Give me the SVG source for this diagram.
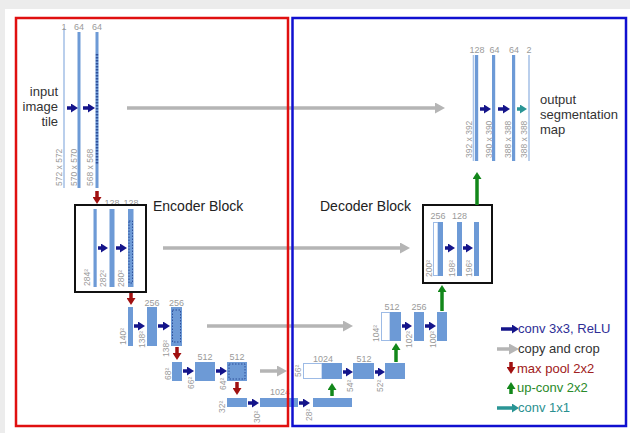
<svg xmlns="http://www.w3.org/2000/svg" width="630" height="433" viewBox="0 0 630 433">
<defs>
<style>
.bar{fill:#6d9ad6}
.wbar{fill:#ffffff;stroke:#9dbbe6;stroke-width:1}
.thin{stroke:#a9c3e8;stroke-width:1.6}
.dot{fill:none;stroke:#2f4f9a;stroke-width:1;stroke-dasharray:1.5 1.5}
.lab{font-family:"Liberation Sans",Arial,sans-serif;font-size:9px;fill:#9a9a9a}
.rot{font-family:"Liberation Sans",Arial,sans-serif;font-size:8.5px;fill:#9a9a9a}
.big{font-family:"Liberation Sans",Arial,sans-serif;font-size:13px;fill:#333333}
.blk{font-family:"Liberation Sans",Arial,sans-serif;font-size:14px;fill:#222222}
.leg{font-family:"Liberation Sans",Arial,sans-serif;font-size:13px}
.cv{stroke:#14148a;stroke-width:3.5;fill:none;marker-end:url(#mb)}
.cp{stroke:#b5b5b5;stroke-width:3.5;fill:none;marker-end:url(#mg)}
.mp{stroke:#a01010;stroke-width:3.5;fill:none;marker-end:url(#mr)}
.up{stroke:#12871a;stroke-width:3.5;fill:none;marker-end:url(#mu)}
.c1{stroke:#2a9595;stroke-width:3.5;fill:none;marker-end:url(#mt)}
.box{fill:none;stroke:#111111;stroke-width:2}
</style>
<marker id="mb" markerUnits="userSpaceOnUse" markerWidth="7" markerHeight="9" refX="0" refY="4.5" orient="auto"><path d="M0,0 L7,4.5 L0,9 z" fill="#14148a"/></marker>
<marker id="mg" markerUnits="userSpaceOnUse" markerWidth="10" markerHeight="11" refX="0" refY="5.5" orient="auto"><path d="M0,0 L10,5.5 L0,11 z" fill="#b5b5b5"/></marker>
<marker id="mr" markerUnits="userSpaceOnUse" markerWidth="7" markerHeight="9" refX="0" refY="4.5" orient="auto"><path d="M0,0 L7,4.5 L0,9 z" fill="#a01010"/></marker>
<marker id="mu" markerUnits="userSpaceOnUse" markerWidth="7" markerHeight="9" refX="0" refY="4.5" orient="auto"><path d="M0,0 L7,4.5 L0,9 z" fill="#12871a"/></marker>
<marker id="mt" markerUnits="userSpaceOnUse" markerWidth="7" markerHeight="9" refX="0" refY="4.5" orient="auto"><path d="M0,0 L7,4.5 L0,9 z" fill="#2a9595"/></marker>
</defs>
<rect x="0" y="0" width="630" height="433" fill="#ececec"/>
<rect x="5" y="9" width="625" height="424" fill="#ffffff"/>

<!-- Encoder level 1 -->
<g id="enc1">
<line class="thin" x1="64" y1="28" x2="64" y2="188"/>
<rect class="bar" x="77.5" y="32" width="3" height="156"/>
<rect class="bar" x="95.5" y="32" width="3" height="156"/>
<line x1="97" y1="54" x2="97" y2="164" stroke="#2f4f9a" stroke-width="2.4" stroke-dasharray="1.5 1.5"/>
<text class="lab" x="64" y="30" text-anchor="middle">1</text>
<text class="lab" x="79" y="30" text-anchor="middle">64</text>
<text class="lab" x="97" y="30" text-anchor="middle">64</text>
<text class="rot" transform="translate(61.5,186) rotate(-90)">572 x 572</text>
<text class="rot" transform="translate(77,186) rotate(-90)">570 x 570</text>
<text class="rot" transform="translate(92.5,186) rotate(-90)">568 x 568</text>
<text class="big" x="58" y="96" text-anchor="end">input</text>
<text class="big" x="58" y="111" text-anchor="end">image</text>
<text class="big" x="58" y="126" text-anchor="end">tile</text>
</g>

<!-- Encoder level 2 (Encoder Block) -->
<g id="enc2">
<rect class="bar" x="93.5" y="209" width="3.2" height="78"/>
<rect class="bar" x="109.5" y="209" width="5" height="78"/>
<rect class="bar" x="128" y="209" width="5.5" height="78"/>
<rect class="dot" x="129" y="221" width="3.5" height="62"/>
<text class="lab" x="112" y="206" text-anchor="middle" font-size="8">128</text>
<text class="lab" x="131" y="206" text-anchor="middle" font-size="8">128</text>
<text class="rot" transform="translate(90,286) rotate(-90)">284²</text>
<text class="rot" transform="translate(106,287) rotate(-90)">282²</text>
<text class="rot" transform="translate(124,287) rotate(-90)">280²</text>
<rect class="box" x="75" y="205" width="71" height="87"/>
<text class="blk" x="153" y="211">Encoder Block</text>
</g>

<!-- Encoder level 3 -->
<g id="enc3">
<rect class="bar" x="128" y="307" width="5" height="39"/>
<rect class="bar" x="147" y="307" width="10" height="39"/>
<rect class="bar" x="171" y="307" width="11" height="39"/>
<rect class="dot" x="172.5" y="310" width="8" height="32"/>
<text class="lab" x="152" y="305.5" text-anchor="middle">256</text>
<text class="lab" x="176.5" y="305.5" text-anchor="middle">256</text>
<text class="rot" transform="translate(126,345) rotate(-90)">140²</text>
<text class="rot" transform="translate(145,348) rotate(-90)">138²</text>
<text class="rot" transform="translate(169,357) rotate(-90)">138²</text>
</g>

<!-- Encoder level 4 -->
<g id="enc4">
<rect class="bar" x="172" y="362" width="10" height="19"/>
<rect class="bar" x="195" y="362" width="20" height="19"/>
<rect class="bar" x="227" y="362" width="20" height="19"/>
<rect class="dot" x="229" y="364" width="16" height="15"/>
<text class="lab" x="205" y="360" text-anchor="middle">512</text>
<text class="lab" x="237" y="360" text-anchor="middle">512</text>
<text class="rot" transform="translate(170.5,380) rotate(-90)">68²</text>
<text class="rot" transform="translate(194,389) rotate(-90)">66²</text>
<text class="rot" transform="translate(226,390) rotate(-90)">64²</text>
</g>

<!-- Bottom level -->
<g id="bottom">
<rect class="bar" x="227" y="398" width="20" height="9"/>
<rect class="bar" x="260" y="398" width="38" height="9"/>
<rect class="bar" x="313" y="398" width="39" height="9"/>
<text class="lab" x="280" y="395" text-anchor="middle">1024</text>
<text class="rot" transform="translate(225,413) rotate(-90)">32²</text>
<text class="rot" transform="translate(260,423) rotate(-90)">30²</text>
<text class="rot" transform="translate(312,421) rotate(-90)">28²</text>
</g>

<!-- Decoder level 4 -->
<g id="dec4">
<rect class="wbar" x="303.5" y="363.5" width="18.5" height="15"/>
<rect class="bar" x="322" y="363" width="20" height="16"/>
<rect class="bar" x="353" y="363" width="21" height="16"/>
<rect class="bar" x="385" y="363" width="20" height="16"/>
<text class="lab" x="323" y="361.5" text-anchor="middle">1024</text>
<text class="lab" x="364" y="361.5" text-anchor="middle">512</text>
<text class="rot" transform="translate(301,377) rotate(-90)">56²</text>
<text class="rot" transform="translate(353,392) rotate(-90)">54²</text>
<text class="rot" transform="translate(383,392) rotate(-90)">52²</text>
</g>

<!-- Decoder level 3 -->
<g id="dec3">
<rect class="wbar" x="381.5" y="312.5" width="8.5" height="28"/>
<rect class="bar" x="390" y="312" width="11" height="29"/>
<rect class="bar" x="414" y="312" width="10" height="29"/>
<rect class="bar" x="437" y="312" width="10" height="29"/>
<text class="lab" x="392" y="309.5" text-anchor="middle">512</text>
<text class="lab" x="419" y="309.5" text-anchor="middle">256</text>
<text class="rot" transform="translate(379,342) rotate(-90)">104²</text>
<text class="rot" transform="translate(412,348) rotate(-90)">102²</text>
<text class="rot" transform="translate(436,348) rotate(-90)">100²</text>
</g>

<!-- Decoder level 2 (Decoder Block) -->
<g id="dec2">
<rect class="wbar" x="433.5" y="222.5" width="4.5" height="53"/>
<rect class="bar" x="438" y="222" width="5" height="54"/>
<rect class="bar" x="457" y="222" width="5" height="54"/>
<rect class="bar" x="474" y="222" width="5" height="54"/>
<text class="lab" x="438" y="219" text-anchor="middle">256</text>
<text class="lab" x="459.5" y="219" text-anchor="middle">128</text>
<text class="rot" transform="translate(432,277) rotate(-90)">200²</text>
<text class="rot" transform="translate(455,277) rotate(-90)">198²</text>
<text class="rot" transform="translate(472,277) rotate(-90)">196²</text>
<rect class="box" x="423" y="205" width="69" height="78"/>
<text class="blk" x="320" y="211">Decoder Block</text>
</g>

<!-- Decoder level 1 -->
<g id="dec1">
<line class="thin" x1="473.5" y1="55" x2="473.5" y2="161"/>
<rect class="bar" x="475" y="55" width="3.2" height="106"/>
<rect class="bar" x="492" y="55" width="3.2" height="106"/>
<rect class="bar" x="512" y="55" width="3.2" height="106"/>
<line class="thin" x1="529" y1="55" x2="529" y2="161"/>
<text class="lab" x="477" y="53" text-anchor="middle">128</text>
<text class="lab" x="494.5" y="53" text-anchor="middle">64</text>
<text class="lab" x="514" y="53" text-anchor="middle">64</text>
<text class="lab" x="529" y="53" text-anchor="middle">2</text>
<text class="rot" transform="translate(472,158) rotate(-90)">392 x 392</text>
<text class="rot" transform="translate(492,158) rotate(-90)">390 x 390</text>
<text class="rot" transform="translate(511,158) rotate(-90)">388 x 388</text>
<text class="rot" transform="translate(527,158) rotate(-90)">388 x 388</text>
<text class="big" x="540" y="104">output</text>
<text class="big" x="540" y="119">segmentation</text>
<text class="big" x="540" y="134">map</text>
</g>

<!-- Connectors -->
<g id="connectors">
<line class="cp" x1="127" y1="108" x2="435" y2="108"/>
<line class="cp" x1="163" y1="248" x2="400" y2="248"/>
<line class="cp" x1="207" y1="326" x2="343" y2="326"/>
<line class="cp" x1="260" y1="371" x2="277" y2="371"/>

<line class="cv" x1="67" y1="108" x2="71" y2="108"/>
<line class="cv" x1="83" y1="108" x2="88" y2="108"/>
<line class="cv" x1="98" y1="248" x2="101" y2="248"/>
<line class="cv" x1="116" y1="248" x2="120" y2="248"/>
<line class="cv" x1="134" y1="326" x2="138" y2="326"/>
<line class="cv" x1="158" y1="326" x2="163" y2="326"/>
<line class="cv" x1="183" y1="371" x2="187" y2="371"/>
<line class="cv" x1="216" y1="371" x2="220" y2="371"/>
<line class="cv" x1="248" y1="403" x2="252" y2="403"/>
<line class="cv" x1="299" y1="403" x2="303" y2="403"/>
<line class="cv" x1="343" y1="372" x2="346" y2="372"/>
<line class="cv" x1="375" y1="372" x2="378" y2="372"/>
<line class="cv" x1="402" y1="326" x2="405" y2="326"/>
<line class="cv" x1="425" y1="326" x2="429" y2="326"/>
<line class="cv" x1="445" y1="248" x2="448" y2="248"/>
<line class="cv" x1="463" y1="248" x2="466" y2="248"/>
<line class="cv" x1="480" y1="109" x2="484" y2="109"/>
<line class="cv" x1="498" y1="109" x2="503" y2="109"/>
<line class="c1" x1="517" y1="109" x2="520" y2="109"/>

<line class="mp" x1="97" y1="191" x2="97" y2="197"/>
<line class="mp" x1="131" y1="293" x2="131" y2="298"/>
<line class="mp" x1="177" y1="347" x2="177" y2="353"/>
<line class="mp" x1="237" y1="382" x2="237" y2="388"/>

<line class="up" x1="332" y1="396" x2="332" y2="390"/>
<line class="up" x1="396" y1="362" x2="396" y2="350"/>
<line class="up" x1="442" y1="311" x2="442" y2="292"/>
<line class="up" x1="477" y1="205" x2="477" y2="179"/>
</g>

<!-- Legend -->
<g id="legend">
<line class="cv" x1="501" y1="329" x2="512" y2="329"/>
<text class="leg" x="518" y="333" fill="#2e2e96">conv 3x3, ReLU</text>
<line class="cp" x1="497" y1="349" x2="509" y2="349"/>
<text class="leg" x="518" y="353" fill="#333333">copy and crop</text>
<line class="mp" x1="511" y1="362" x2="511" y2="367"/>
<text class="leg" x="517" y="373" fill="#a02020">max pool 2x2</text>
<line class="up" x1="511" y1="394" x2="511" y2="389"/>
<text class="leg" x="517" y="392" fill="#2a8a2a">up-conv 2x2</text>
<line class="c1" x1="497" y1="408" x2="512" y2="408"/>
<text class="leg" x="518" y="412" fill="#2a9090">conv 1x1</text>
</g>

<!-- Block frames -->
<g id="frames">
<rect x="16" y="18" width="272" height="408" fill="none" stroke="#e01010" stroke-width="2.5"/>
<rect x="292.5" y="18" width="333.5" height="408" fill="none" stroke="#1010d0" stroke-width="2.5"/>
</g>
</svg>
